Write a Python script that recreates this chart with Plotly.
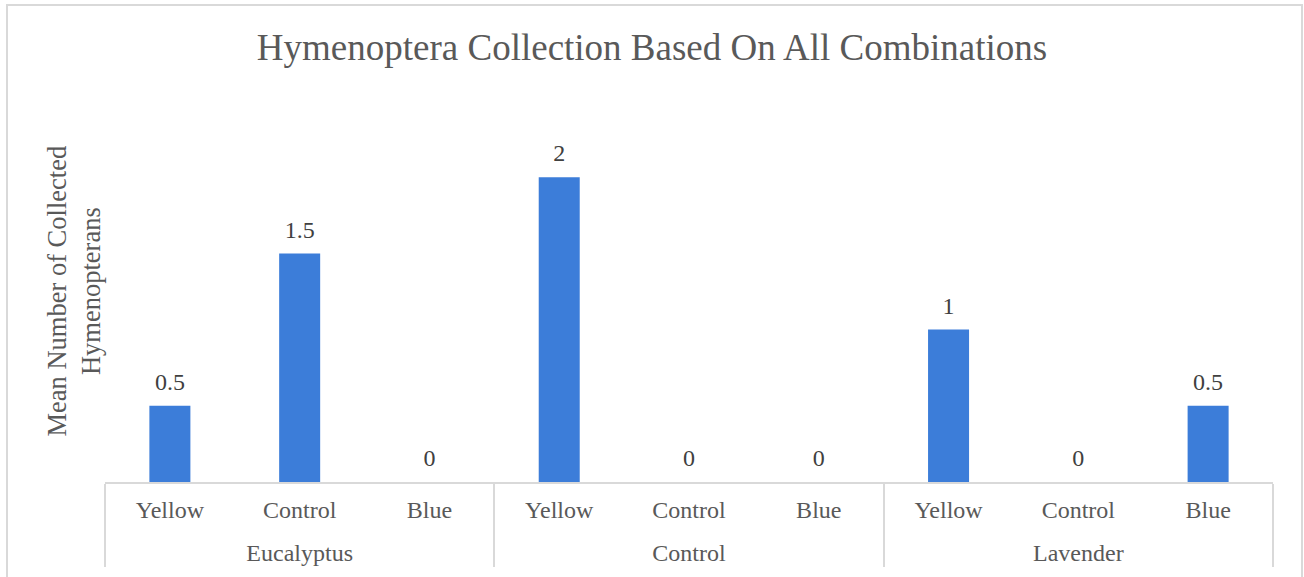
import plotly.graph_objects as go

groups = ["Eucalyptus", "Eucalyptus", "Eucalyptus",
          "Control", "Control", "Control",
          "Lavender", "Lavender", "Lavender"]
traps = ["Yellow", "Control", "Blue",
         "Yellow", "Control", "Blue",
         "Yellow", "Control", "Blue"]
means = [0.5, 1.5, 0, 2, 0, 0, 1, 0, 0.5]
labels = ["0.5", "1.5", "0", "2", "0", "0", "1", "0", "0.5"]

FONT = "Liberation Serif, Times New Roman, serif"
GRAY = "#d9d9d9"

# invisible tall spacer so the second label row sits lower, as in the reference
PAD = "<span style='font-size:42px;color:rgba(0,0,0,0)'>.</span>"
trap_text = [PAD + t + PAD for t in traps]
xcat = [groups, trap_text]

fig = go.Figure()
fig.add_trace(go.Bar(
    x=xcat, y=means,
    marker=dict(color="#3C7DD9", line=dict(width=0)),
    hoverinfo="y",
))
fig.add_trace(go.Scatter(
    x=xcat, y=means, mode="markers+text",
    marker=dict(size=14, opacity=0),
    text=labels, textposition="top center",
    textfont=dict(family=FONT, size=24, color="#404040"),
    cliponaxis=False, hoverinfo="skip",
))

fig.update_layout(
    width=1304, height=577,
    margin=dict(l=105, r=31, t=101, b=95),
    paper_bgcolor="white", plot_bgcolor="white",
    bargap=0.684,
    showlegend=False,
    title=dict(
        text="Hymenoptera Collection Based On All Combinations",
        font=dict(family=FONT, size=37, color="#595959"),
        x=0.5, xanchor="center", y=0.918, yanchor="middle",
    ),
    font=dict(family=FONT, color="#595959"),
)

fig.update_xaxes(
    type="multicategory", range=[-0.5, len(traps) - 0.5], autorange=False,
    showline=True, linecolor=GRAY, linewidth=2,
    showgrid=False, zeroline=False,
    ticks="", ticklabelstandoff=5,
    tickfont=dict(family=FONT, size=24, color="#595959"),
    showdividers=True, dividercolor=GRAY, dividerwidth=2,
)
fig.update_yaxes(
    range=[0, 2.5], showticklabels=False, showgrid=False, zeroline=False,
    showline=False, ticks="",
)

fig.add_annotation(
    text="Mean Number of Collected<br>Hymenopterans",
    xref="paper", yref="paper", x=0, y=0.5, xshift=-32,
    xanchor="center", yanchor="middle", textangle=-90, showarrow=False,
    font=dict(family=FONT, size=26.5, color="#595959"),
)

# chart-area border
fig.add_shape(type="rect", xref="paper", yref="paper",
              x0=(7 - 105) / 1168, x1=(1302 - 105) / 1168,
              y0=-0.5, y1=(482 - 5) / 381,
              line=dict(color=GRAY, width=2), fillcolor="rgba(0,0,0,0)",
              layer="below")

fig.write_html("out.html")
